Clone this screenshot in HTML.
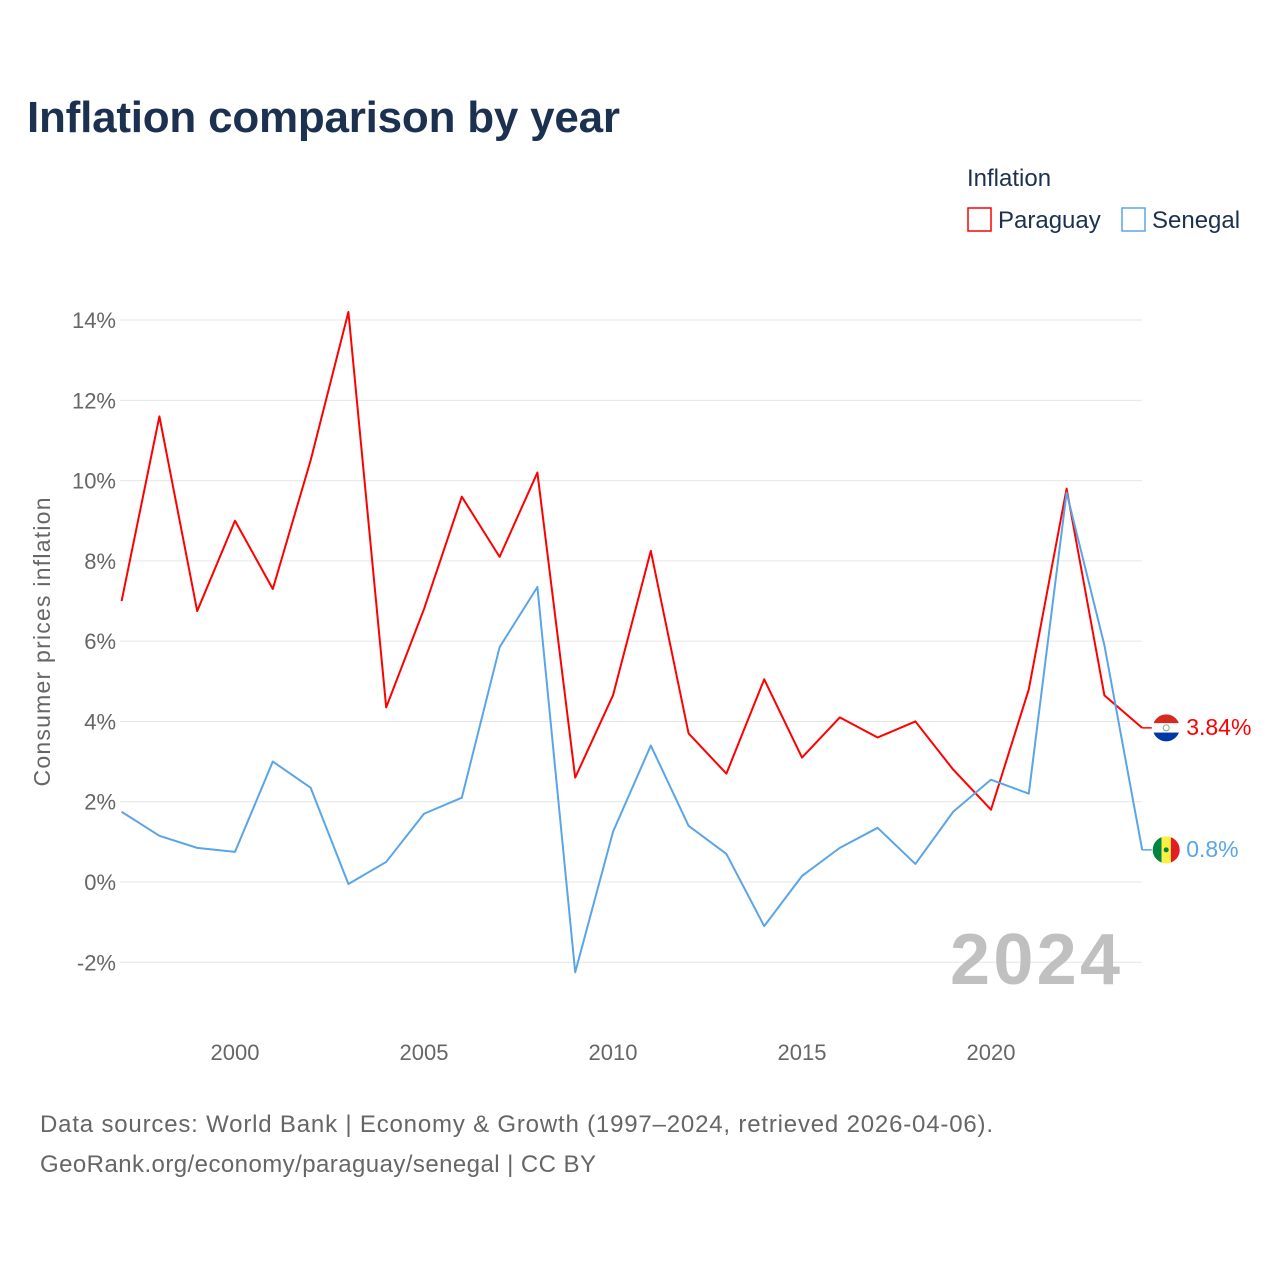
<!DOCTYPE html>
<html><head><meta charset="utf-8"><style>
body{margin:0;background:#fff;font-family:"Liberation Sans",sans-serif}
svg text{font-family:"Liberation Sans",sans-serif}
</style></head><body>
<svg width="1280" height="1280" id="chart">
<text x="27" y="132" font-size="44" font-weight="bold" fill="#1c3150" textLength="593">Inflation comparison by year</text>
<g>
<text x="967" y="186" font-size="24" fill="#1c3150">Inflation</text>
<g><rect x="968" y="208" width="23" height="23" fill="none" stroke="#ff0000" stroke-width="1.5"/><text x="998" y="228" font-size="24" fill="#1c3150">Paraguay</text></g>
<g><rect x="1122" y="208" width="23" height="23" fill="none" stroke="#5aa5e8" stroke-width="1.5"/><text x="1152" y="228" font-size="24" fill="#1c3150">Senegal</text></g>
</g>
<g id="grid"></g><g id="series"></g>
<text x="1120" y="984" font-size="72" font-weight="bold" fill="#c0c0c0" text-anchor="end" textLength="170">2024</text>
<text transform="translate(50,642) rotate(-90)" font-size="23" fill="#666" text-anchor="middle" textLength="289">Consumer prices inflation</text>
<text x="40" y="1132" font-size="24" fill="#666" textLength="953">Data sources: World Bank | Economy &amp; Growth (1997–2024, retrieved 2026-04-06).</text>
<text x="40" y="1172" font-size="24" fill="#666" textLength="556">GeoRank.org/economy/paraguay/senegal | CC BY</text>
</svg>
<script>
const years=[1997,1998,1999,2000,2001,2002,2003,2004,2005,2006,2007,2008,2009,2010,2011,2012,2013,2014,2015,2016,2017,2018,2019,2020,2021,2022,2023,2024];
const paraguay=[7.0,11.6,6.75,9.0,7.3,10.5,14.2,4.35,6.8,9.6,8.1,10.2,2.6,4.65,8.25,3.7,2.7,5.05,3.1,4.1,3.6,4.0,2.8,1.8,4.8,9.8,4.65,3.84];
const senegal=[1.75,1.15,0.85,0.75,3.0,2.35,-0.05,0.5,1.7,2.1,5.85,7.35,-2.25,1.25,3.4,1.4,0.7,-1.1,0.15,0.85,1.35,0.45,1.75,2.55,2.2,9.7,5.9,0.8];
const yTicks=[-2,0,2,4,6,8,10,12,14];
const xTicks=[2000,2005,2010,2015,2020];
const NS="http://www.w3.org/2000/svg";
const X=y=>235+(y-2000)*37.8;
const Y=v=>882-v*40.14;
const grid=document.getElementById('grid'),ser=document.getElementById('series');
function mk(tag,attrs,parent){const e=document.createElementNS(NS,tag);for(const k in attrs)e.setAttribute(k,attrs[k]);parent.appendChild(e);return e;}
yTicks.forEach(t=>{
 const l=mk('line',{x1:120,x2:1142,y1:Y(t),y2:Y(t),stroke:'#e6e6e6','stroke-width':1},grid);
 
 
 const tx=mk('text',{x:116,y:Y(t)+8,'font-size':22,fill:'#666','text-anchor':'end'},grid);
 tx.textContent=t+'%';
 
 
});
xTicks.forEach(t=>{
 const tx=mk('text',{x:X(t),y:1060,'font-size':22,fill:'#666','text-anchor':'middle'},grid);
 tx.textContent=t;
 
 
});
function line(vals,color,name){
 const p=mk('polyline',{points:vals.map((v,i)=>X(years[i])+','+Y(v)).join(' '),fill:'none',stroke:color,'stroke-width':2,'stroke-linejoin':'round'},ser);
 
 
}
line(paraguay,'#ff0000','paraguay-line');
line(senegal,'#5aa5e8','senegal-line');
function endLabel(v,color,name,kind){
 const x=X(years[years.length-1]),y=Y(v);
 const g=mk('g',{},ser);
 
 
 mk('line',{x1:x,x2:x+12,y1:y,y2:y,stroke:color,'stroke-width':1.5},g);
 const cx=x+24;
 if(kind==='py'){
  mk('rect',{x:cx-14,y:y-14,width:28,height:9.4,fill:'#d52b1e'},g);
  mk('rect',{x:cx-14,y:y-4.6,width:28,height:9.3,fill:'#fff'},g);
  mk('rect',{x:cx-14,y:y+4.7,width:28,height:9.3,fill:'#0038a8'},g);
  mk('circle',{cx:cx,cy:y,r:3,fill:'none',stroke:'#8a8',"stroke-width":1},g);
 }else{
  mk('rect',{x:cx-14,y:y-14,width:9.4,height:28,fill:'#00853f'},g);
  mk('rect',{x:cx-4.6,y:y-14,width:9.3,height:28,fill:'#fdef42'},g);
  mk('rect',{x:cx+4.7,y:y-14,width:9.3,height:28,fill:'#e31b23'},g);
  mk('circle',{cx:cx,cy:y,r:2.5,fill:'#00853f'},g);
 }
 mk('circle',{cx:cx,cy:y,r:14,fill:'none',stroke:'#fff','stroke-width':1},g);
 const t=mk('text',{x:cx+20,y:y+7,'font-size':23,fill:color},g);
 t.textContent=v+'%';
}
endLabel(paraguay[paraguay.length-1],'#ff0000','paraguay-end-label','py');
endLabel(senegal[senegal.length-1],'#5aa5e8','senegal-end-label','sn');
document.querySelectorAll('#series g').forEach((g,i)=>{
 const c=g.querySelectorAll('circle');const last=c[c.length-1];
 const cp=mk('clipPath',{id:'cp'+i},document.getElementById('chart'));
 mk('circle',{cx:last.getAttribute('cx'),cy:last.getAttribute('cy'),r:14},cp);
 g.querySelectorAll('rect').forEach(r=>r.setAttribute('clip-path','url(#cp'+i+')'));
});
</script>
</body></html>
